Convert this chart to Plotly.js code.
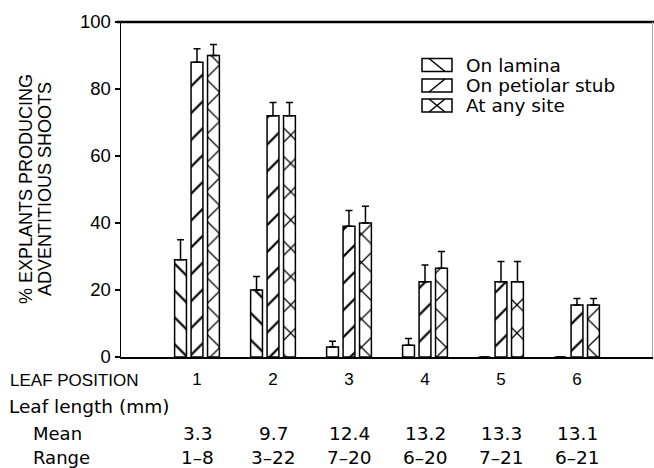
<!DOCTYPE html>
<html>
<head>
<meta charset="utf-8">
<script src="https://cdn.plot.ly/plotly-3.0.1.min.js"></script>
<style>html,body{margin:0;padding:0;background:#fff;}#chart{width:654px;height:468px;}</style>
</head>
<body>
<div id="chart"></div>
<script>
// ---- data ----
const positions = [1, 2, 3, 4, 5, 6];
const positionLabels = ['1', '2', '3', '4', '5', '6'];
const seriesNames = ['On lamina', 'On petiolar stub', 'At any site'];
const onLamina = [29, 20, 3, 3.5, 0, 0];
const onLaminaErr = [6, 4, 1.7, 2, null, null];
const onPetiolar = [88, 72, 39, 22.5, 22.5, 15.5];
const onPetiolarErr = [4, 4, 4.7, 5, 6, 2];
const atAnySite = [90, 72, 40, 26.5, 22.5, 15.5];
const atAnySiteErr = [3.3, 4, 5, 5, 6, 2];
const meanLength = ['3.3', '9.7', '12.4', '13.2', '13.3', '13.1'];
const rangeLength = ['1–8', '3–22', '7–20', '6–20', '7–21', '6–21'];
const yTicks = [0, 20, 40, 60, 80, 100];

// ---- layout helpers ----
const W = 654, H = 468, ML = 121, MR = 1, MT = 22, MB = 111;
const PW = W - ML - MR, PH = H - MT - MB;
const px = v => (v - ML) / PW;
const py = v => (H - MB - v) / PH;

const HEL = 'Liberation Sans, Arial, sans-serif';
const PLT = 'DejaVu Sans, sans-serif';

function barTrace(y, err, name, shape, size) {
  return {
    type: 'bar', x: positions, y: y, name: name,
    marker: {
      color: '#ffffff',
      line: {color: '#000', width: 1.5},
      pattern: {shape: shape, fgcolor: '#000', bgcolor: '#fff', size: size, solidity: 0.12}
    },
    error_y: {type: 'data', symmetric: false, array: err, arrayminus: err.map(() => 0),
              color: '#000', thickness: 1.5, width: 3.5},
    showlegend: false, hoverinfo: 'skip'
  };
}

const traces = [
  barTrace(onLamina, onLaminaErr, seriesNames[0], '\\', 19),
  barTrace(onPetiolar, onPetiolarErr, seriesNames[1], '/', 19),
  barTrace(atAnySite, atAnySiteErr, seriesNames[2], 'x', 20)
];

const annotations = [];
const shapes = [];

// y-axis title (two lines)
annotations.push({xref: 'paper', yref: 'paper', x: px(26), y: py(189), text: '% EXPLANTS PRODUCING',
  textangle: -90, showarrow: false, xanchor: 'center', yanchor: 'middle', font: {family: HEL, size: 18, color: '#000'}});
annotations.push({xref: 'paper', yref: 'paper', x: px(45), y: py(189), text: 'ADVENTITIOUS SHOOTS',
  textangle: -90, showarrow: false, xanchor: 'center', yanchor: 'middle', font: {family: HEL, size: 18, color: '#000'}});

// bottom table
annotations.push({xref: 'paper', yref: 'paper', x: px(8), y: py(380), text: 'LEAF POSITION', showarrow: false,
  xanchor: 'left', yanchor: 'middle', font: {family: HEL, size: 17, color: '#000'}});
annotations.push({xref: 'paper', yref: 'paper', x: px(7), y: py(406), text: 'Leaf length (mm)', showarrow: false,
  xanchor: 'left', yanchor: 'middle', font: {family: PLT, size: 18.5, color: '#000'}});
annotations.push({xref: 'paper', yref: 'paper', x: px(31), y: py(433), text: 'Mean', showarrow: false,
  xanchor: 'left', yanchor: 'middle', font: {family: PLT, size: 18, color: '#000'}});
annotations.push({xref: 'paper', yref: 'paper', x: px(31), y: py(457), text: 'Range', showarrow: false,
  xanchor: 'left', yanchor: 'middle', font: {family: PLT, size: 18, color: '#000'}});
positions.forEach((p, i) => {
  annotations.push({xref: 'x', yref: 'paper', x: p, y: py(433), text: meanLength[i], showarrow: false,
    xanchor: 'center', yanchor: 'middle', font: {family: PLT, size: 18.5, color: '#000'}});
  annotations.push({xref: 'x', yref: 'paper', x: p, y: py(457), text: rangeLength[i], showarrow: false,
    xanchor: 'center', yanchor: 'middle', font: {family: PLT, size: 18.5, color: '#000'}});
});

// legend (hand drawn key)
const legRows = [65, 85.5, 105.5];
const swL = 422, swR = 452, swH = 13;
legRows.forEach((cy, i) => {
  const t = cy - swH / 2, b = cy + swH / 2;
  shapes.push({type: 'rect', xref: 'paper', yref: 'paper', x0: px(swL), x1: px(swR), y0: py(b), y1: py(t),
    line: {color: '#000', width: 1.5}, fillcolor: '#fff'});
  const inset = 7;
  if (i === 0 || i === 2) {
    shapes.push({type: 'line', xref: 'paper', yref: 'paper', x0: px(swL + inset), y0: py(t), x1: px(swR - inset), y1: py(b),
      line: {color: '#000', width: 1.5}});
  }
  if (i === 1 || i === 2) {
    shapes.push({type: 'line', xref: 'paper', yref: 'paper', x0: px(swL + inset), y0: py(b), x1: px(swR - inset), y1: py(t),
      line: {color: '#000', width: 1.5}});
  }
  annotations.push({xref: 'paper', yref: 'paper', x: px(464), y: py(cy), text: seriesNames[i], showarrow: false,
    xanchor: 'left', yanchor: 'middle', font: {family: PLT, size: 18.5, color: '#000'}});
});

// frame: thick top line, faint right line
shapes.push({type: 'line', xref: 'paper', yref: 'paper', x0: px(117), x1: 1.01, y0: 1, y1: 1,
  line: {color: '#000', width: 2.5}});
shapes.push({type: 'line', xref: 'paper', yref: 'paper', x0: px(652.5), x1: px(652.5), y0: 0, y1: 1,
  line: {color: '#aaa', width: 1}});

const layout = {
  width: W, height: H,
  margin: {l: ML, r: MR, t: MT, b: MB, pad: 0},
  paper_bgcolor: '#fff', plot_bgcolor: '#fff',
  barmode: 'group', bargap: 0.35, bargroupgap: 0.28,
  showlegend: false,
  xaxis: {
    range: [0, 7], tickvals: positions, ticktext: positionLabels,
    showgrid: false, zeroline: false, showline: true, linecolor: '#000', linewidth: 1.5,
    ticks: '', ticklabelstandoff: 6,
    tickfont: {family: HEL, size: 17, color: '#000'}, fixedrange: true
  },
  yaxis: {
    range: [0, 100], tickvals: yTicks, ticktext: yTicks.map(String),
    showgrid: false, zeroline: false, showline: true, linecolor: '#000', linewidth: 1.5,
    ticks: 'outside', ticklen: 5, tickwidth: 1.5, tickcolor: '#000',
    tickfont: {family: HEL, size: 18.5, color: '#000'}, fixedrange: true
  },
  annotations: annotations,
  shapes: shapes
};

Plotly.newPlot('chart', traces, layout, {displayModeBar: false, staticPlot: true});
</script>
</body>
</html>
